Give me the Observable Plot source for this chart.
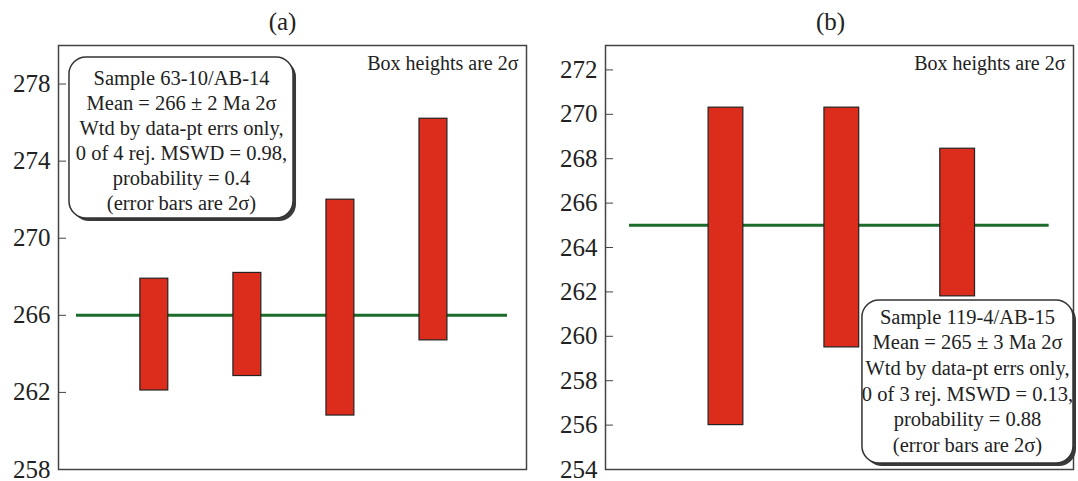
<!DOCTYPE html>
<html>
<head>
<meta charset="utf-8">
<script src="https://cdn.jsdelivr.net/npm/d3@7"></script>
<script src="https://cdn.jsdelivr.net/npm/@observablehq/plot@0.6"></script>
<style>
  html, body { margin: 0; padding: 0; background: #fff; }
  #wrap { position: relative; width: 1078px; height: 481px; overflow: hidden; }
  #wrap > div { position: absolute; top: 0; }
  #wrap svg, #wrap svg text { font-family: "Liberation Serif", "Times New Roman", serif !important; }
</style>
</head>
<body>
<div id="wrap"><div id="pa" style="left:0px"></div><div id="pb" style="left:530px"></div></div>
<script>
// ---- data (a) ----
const grainsA = [1, 2, 3, 4];
const lowA  = [262.1, 262.85, 260.8, 264.7];
const highA = [267.9, 268.2, 272.0, 276.2];
const meanA = 266;
const ticksA = [258, 262, 266, 270, 274, 278];
const textA = "Sample 63-10/AB-14\nMean = 266 ± 2 Ma 2σ\nWtd by data-pt errs only,\n0 of 4 rej. MSWD = 0.98,\nprobability = 0.4\n(error bars are 2σ)";

// ---- data (b) ----
const grainsB = [1, 2, 3];
const lowB  = [256.0, 259.5, 261.8];
const highB = [270.3, 270.3, 268.45];
const meanB = 265;
const ticksB = [254, 256, 258, 260, 262, 264, 266, 268, 270, 272];
const textB = "Sample 119-4/AB-15\nMean = 265 ± 3 Ma 2σ\nWtd by data-pt errs only,\n0 of 3 rej. MSWD = 0.13,\nprobability = 0.88\n(error bars are 2σ)";

const boxNote = "Box heights are 2σ";
const FONT = "Liberation Serif";
const RED = "#dc2c1b";
const GREEN = "#1d6b2b";
const INK = "#222";

function panel({grains, low, high, mean, ticks, text, label, width, marginLeft, marginRight, xDomain, yDomain, lineX, box, textPos, lineHeight, titleDx}) {
  const bars = grains.map((g, i) => ({g, lo: low[i], hi: high[i]}));
  return Plot.plot({
    width, height: 481,
    marginLeft, marginRight, marginTop: 45, marginBottom: 12,
    style: {fontFamily: FONT, color: INK, background: "transparent", overflow: "visible"},
    x: {domain: xDomain, axis: null},
    y: {domain: yDomain, axis: null},
    marks: [
      Plot.ruleY([mean], {x1: lineX[0], x2: lineX[1], stroke: GREEN, strokeWidth: 3}),
      Plot.rect(bars, {x1: d => d.g - 0.15, x2: d => d.g + 0.15, y1: "lo", y2: "hi", fill: RED, stroke: "#222", strokeWidth: 1.2}),
      Plot.axisY(ticks, {anchor: "left", tickSize: -8, tickPadding: 16, fontSize: 25, fontFamily: FONT, stroke: "#444", fill: INK}),
      Plot.frame({stroke: "#444", strokeWidth: 1.5}),
      Plot.text([boxNote], {frameAnchor: "top-right", dx: -8, dy: 10, textAnchor: "end", lineAnchor: "top", fontSize: 20, fontFamily: FONT, fill: INK}),
      Plot.text([label], {frameAnchor: "top", dx: titleDx, dy: -24, lineAnchor: "middle", fontSize: 25, fontFamily: FONT, fill: INK}),
      Plot.rect([box], {x1: "x1", x2: "x2", y1: "y1", y2: "y2", rx: 17, fill: "#3a3a3a", dx: 3, dy: 3}),
      Plot.rect([box], {x1: "x1", x2: "x2", y1: "y1", y2: "y2", rx: 17, fill: "white", stroke: "#333", strokeWidth: 1.5}),
      Plot.text([text], {x: textPos[0], y: textPos[1], textAnchor: "middle", lineAnchor: "middle", lineHeight, fontSize: 20.5, fontFamily: FONT, fill: INK})
    ]
  });
}

document.getElementById("pa").append(panel({
  grains: grainsA, low: lowA, high: highA, mean: meanA, ticks: ticksA, text: textA, label: "(a)",
  width: 530, marginLeft: 58, marginRight: 4,
  xDomain: [-0.03, 5.0], yDomain: [258, 280],
  lineX: [0.163, 4.796],
  box: {x1: 0.088, x2: 2.496, y1: 271.02, y2: 279.38},
  textPos: [1.292, 275.1], lineHeight: 1.22, titleDx: -10
}));

document.getElementById("pb").append(panel({
  grains: grainsB, low: lowB, high: highB, mean: meanB, ticks: ticksB, text: textB, label: "(b)",
  width: 548, marginLeft: 75, marginRight: 5,
  xDomain: [-0.04, 4.0], yDomain: [254, 273.1],
  lineX: [0.167, 3.79],
  box: {x1: 2.178, x2: 4.0, y1: 254.27, y2: 261.61},
  textPos: [3.085, 258.05], lineHeight: 1.25, titleDx: -9
}));
</script>
</body>
</html>
